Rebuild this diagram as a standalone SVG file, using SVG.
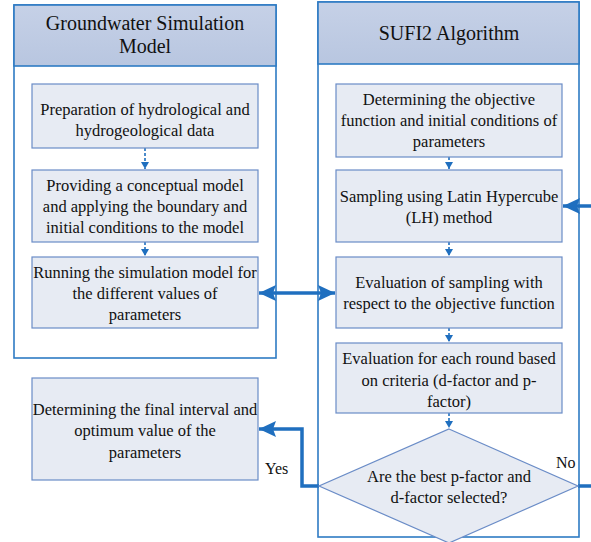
<svg xmlns="http://www.w3.org/2000/svg" width="591" height="542" viewBox="0 0 591 542">
<style>
.cont{fill:#ffffff;stroke:#2E7BC4;stroke-width:1.6}
.hdr{fill:url(#hg);stroke:#2E7BC4;stroke-width:1.6}
.box{fill:#E7EBF3;stroke:#6A8CC7;stroke-width:1.2}
.t{font-family:"Liberation Serif","Times New Roman",Times,serif;font-size:16.5px;fill:#111;text-anchor:middle}
.h{font-family:"Liberation Serif","Times New Roman",Times,serif;font-size:20px;fill:#111;text-anchor:middle}
.lab{font-family:"Liberation Serif","Times New Roman",Times,serif;font-size:16px;fill:#111}
.thick{fill:none;stroke:#1F6FBF;stroke-width:3.5}
.thin{fill:none;stroke:#1F6FBF;stroke-width:1.6;stroke-dasharray:3 2}
</style>
<defs>
<linearGradient id="hg" x1="0" y1="0" x2="0" y2="1">
<stop offset="0" stop-color="#C6D1E7"/>
<stop offset="1" stop-color="#B8C6E0"/>
</linearGradient>
<marker id="big" markerUnits="userSpaceOnUse" markerWidth="18" markerHeight="18" viewBox="0 0 18 18" refX="17" refY="9" orient="auto-start-reverse">
<path d="M0,1 L17,9 L0,17 L3,9 Z" fill="#1F6FBF"/>
</marker>
<marker id="small" markerUnits="userSpaceOnUse" markerWidth="8" markerHeight="8" viewBox="0 0 8 8" refX="7" refY="4" orient="auto">
<path d="M0,0 L7,4 L0,8 Z" fill="#1F6FBF"/>
</marker>
</defs>

<g id="left-container">
<rect class="cont" x="14" y="5" width="262" height="353"/>
<rect class="hdr" x="14" y="5" width="262" height="61"/>
<text class="h" x="145" y="30">Groundwater Simulation</text>
<text class="h" x="145" y="53">Model</text>
</g>

<g id="right-container">
<rect class="cont" x="318" y="2" width="261" height="535"/>
<rect class="hdr" x="318" y="2" width="261" height="62"/>
<text class="h" x="449" y="40">SUFI2 Algorithm</text>
</g>

<g id="connectors">
<line class="thin" x1="145" y1="148" x2="145" y2="169" marker-end="url(#small)"/>
<line class="thin" x1="145" y1="242" x2="145" y2="256" marker-end="url(#small)"/>
<line class="thin" x1="449" y1="157" x2="449" y2="169" marker-end="url(#small)"/>
<line class="thin" x1="449" y1="242" x2="449" y2="256" marker-end="url(#small)"/>
<line class="thin" x1="449" y1="328" x2="449" y2="342" marker-end="url(#small)"/>
<line class="thin" x1="449" y1="413" x2="449" y2="428" marker-end="url(#small)"/>
<line class="thick" x1="259" y1="293" x2="335" y2="293" marker-start="url(#big)" marker-end="url(#big)"/>
<polyline class="thick" points="319,486 302,486 302,429 259,429" marker-end="url(#big)"/>
<polyline class="thick" points="578,486 593,486 593,206 563,206" marker-end="url(#big)"/>
<text class="lab" x="265" y="474">Yes</text>
<text class="lab" x="556" y="468">No</text>
</g>

<g id="n1">
<rect class="box" x="32" y="84" width="226" height="64"/>
<text class="t" x="145" y="115">Preparation of hydrological and</text>
<text class="t" x="145" y="136">hydrogeological data</text>
</g>
<g id="n2">
<rect class="box" x="32" y="170" width="226" height="72"/>
<text class="t" x="145" y="191">Providing a conceptual model</text>
<text class="t" x="145" y="212">and applying the boundary and</text>
<text class="t" x="145" y="233">initial conditions to the model</text>
</g>
<g id="n3">
<rect class="box" x="32" y="257" width="226" height="71"/>
<text class="t" x="145" y="278">Running the simulation model for</text>
<text class="t" x="145" y="299">the different values of</text>
<text class="t" x="145" y="320">parameters</text>
</g>
<g id="n4">
<rect class="box" x="336" y="84" width="226" height="73"/>
<text class="t" x="449" y="105">Determining the objective</text>
<text class="t" x="449" y="126">function and initial conditions of</text>
<text class="t" x="449" y="147">parameters</text>
</g>
<g id="n5">
<rect class="box" x="336" y="170" width="226" height="72"/>
<text class="t" x="449" y="202">Sampling using Latin Hypercube</text>
<text class="t" x="449" y="223">(LH) method</text>
</g>
<g id="n6">
<rect class="box" x="336" y="257" width="226" height="71"/>
<text class="t" x="449" y="288">Evaluation of sampling with</text>
<text class="t" x="449" y="309">respect to the objective function</text>
</g>
<g id="n7">
<rect class="box" x="336" y="343" width="226" height="70"/>
<text class="t" x="449" y="364">Evaluation for each round based</text>
<text class="t" x="449" y="386">on criteria (d-factor and p-</text>
<text class="t" x="449" y="407">factor)</text>
</g>
<g id="n8">
<polygon class="box" points="449,429 578,486 449,543 319,486"/>
<text class="t" x="449" y="482">Are the best p-factor and</text>
<text class="t" x="449" y="503">d-factor selected?</text>
</g>
<g id="n9">
<rect class="box" x="32" y="378" width="226" height="102"/>
<text class="t" x="145" y="415">Determining the final interval and</text>
<text class="t" x="145" y="436">optimum value of the</text>
<text class="t" x="145" y="458">parameters</text>
</g>
</svg>
